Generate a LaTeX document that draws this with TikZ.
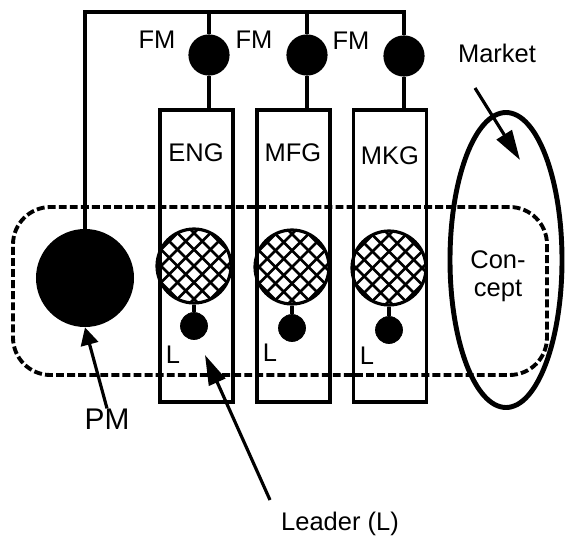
\documentclass[tikz,border=0pt]{standalone}
\usepackage{fontspec}
\setmainfont{Liberation Sans}
\usetikzlibrary{arrows.meta,shapes.geometric}

\tikzset{
  lbl/.style={font=\fontsize{14.5}{16}\selectfont, inner sep=0pt},
  fm/.style={circle, fill, draw, line width=1.8pt, minimum size=7.6mm, inner sep=0pt},
  dept/.style={draw, line width=1.8pt, minimum width=14.6mm, minimum height=58.4mm, inner sep=0pt},
  hatch/.style={circle, draw, line width=1.8pt, minimum size=14.8mm, inner sep=0pt,
    path picture={\foreach \k in {-6,...,6}{
      \draw[line width=1.5pt] (path picture bounding box.center) ++(\k*3.3mm,0mm) ++(-2cm,-2cm) -- ++(4cm,4cm);
      \draw[line width=1.5pt] (path picture bounding box.center) ++(\k*3.3mm,0mm) ++(-2cm,2cm) -- ++(4cm,-4cm);}}},
  dot/.style={circle, fill, draw, minimum size=5.4mm, inner sep=0pt},
  wire/.style={line width=1.8pt},
  pointer/.style={line width=1.8pt, -{Triangle[length=17pt,width=10pt]}},
}

\begin{document}
\begin{tikzpicture}[x=0.2mm, y=-0.2mm]
  \useasboundingbox (0,0) rectangle (568,542);
  % departments
  \node[dept] (eng) at (196.5,256) {};
  \node[dept] (mfg) at (293.5,256) {};
  \node[dept] (mkg) at (390,256) {};
  \node[lbl] (t1) at (196,153) {ENG};
  \node[lbl] (t2) at (293,153) {MFG};
  \node[lbl] (t3) at (390,156) {MKG};
  % functional managers
  \node[fm] (f1) at (209,55) {};
  \node[fm] (f2) at (307,55) {};
  \node[fm] (f3) at (404,56) {};
  \node[lbl] (fm1) at (157,40) {FM};
  \node[lbl] (fm2) at (254,40) {FM};
  \node[lbl] (fm3) at (351,41) {FM};
  % product manager
  \node[circle, fill, minimum size=19.6mm, inner sep=0pt] (pm) at (85,278) {};
  \coordinate (top) at (0,12);
  \draw[wire] (pm.north) |- (top -| f3) -- (f3.north);
  \draw[wire] (f1.north) -- (f1 |- top);
  \draw[wire] (f2.north) -- (f2 |- top);
  \draw[wire] (f1.south) -- (f1 |- eng.north);
  \draw[wire] (f2.south) -- (f2 |- mfg.north);
  \draw[wire] (f3.south) -- (f3 |- mkg.north);
  % team members and leaders
  \node[hatch] (h1) at (194,266) {};
  \node[hatch] (h2) at (292,267) {};
  \node[hatch] (h3) at (389,268) {};
  \node[dot] (d1) at (194,326) {};
  \node[dot] (d2) at (292,328) {};
  \node[dot] (d3) at (389,330) {};
  \draw[wire] (h1.south) -- (d1.north);
  \draw[wire] (h2.south) -- (d2.north);
  \draw[wire] (h3.south) -- (d3.north);
  \node[lbl] (l1) at (173,355) {L};
  \node[lbl] (l2) at (270,353) {L};
  \node[lbl] (l3) at (367,356) {L};
  % project team
  \node[draw, line width=2.2pt, dash pattern=on 4.5pt off 1.8pt, rounded corners=7.5mm,
        minimum width=106.8mm, minimum height=33.6mm] (team) at (280,291) {};
  % market and concept
  \node[ellipse, draw, line width=2.8pt, minimum width=22.4mm, minimum height=59mm] (mk) at (506,260) {};
  \node[lbl, align=center] (cc) at (498,276) {Con-\\cept};
  \node[lbl] (mkl) at (497,53) {Market};
  \coordinate (m0) at (475,88);
  \coordinate (m1) at (520,160);
  \draw[pointer] (m0) -- (m1);
  % labels below
  \node[lbl, font=\fontsize{17}{19}\selectfont] (pml) at (107,419) {PM};
  \draw[pointer, -{Triangle[length=10pt,width=10pt]}] (pml.north) -- (pm.south);
  \node[lbl] (ldl) at (340,524) {Leader (L)};
  \coordinate (l0) at (270,500);
  \coordinate (lt) at (205,355);
  \draw[pointer] (l0) -- (lt);
\end{tikzpicture}
\end{document}
